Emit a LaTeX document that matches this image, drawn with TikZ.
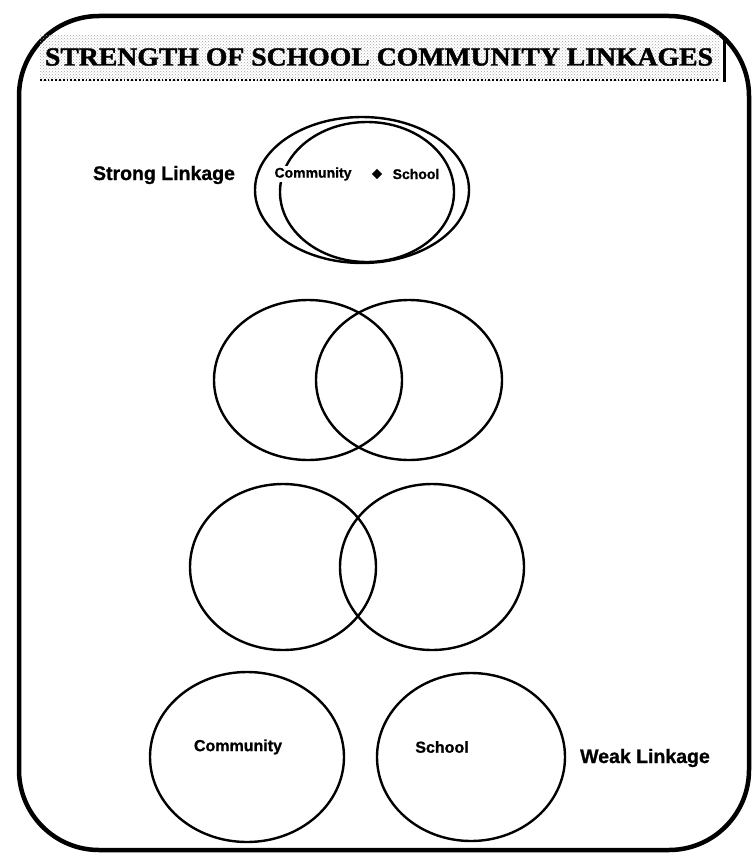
\documentclass[tikz,border=0pt]{standalone}
\usepackage{fontspec}
\setmainfont{Liberation Sans}
\newfontfamily\titlefont[FakeBold=1.5]{Liberation Serif}
\newfontfamily\heavysans[FakeBold=1]{Liberation Sans}
\usetikzlibrary{patterns,shapes.geometric}
\begin{document}
\begin{tikzpicture}[x=1pt,y=-1pt,
  ring/.style={draw, ellipse, line width=2.4pt, inner sep=0pt},
  lbl/.style={font=\heavysans\bfseries\fontsize{19.5}{21}\selectfont},
  inlbl/.style={font=\heavysans\bfseries\fontsize{16}{18}\selectfont},
  toplbl/.style={font=\heavysans\bfseries\fontsize{14}{16}\selectfont, fill=white, inner sep=1pt},
]
\useasboundingbox (0,0) rectangle (752,859);
% frame
\draw[line width=4.5pt, rounded corners=80pt] (19,16) rectangle (749,850);
% title band
\fill[pattern=crosshatch dots, pattern color=gray!70] (40,36) rectangle (720,80);
\node[inner sep=0pt] (title) at (379,57) {\resizebox{668pt}{\height}{\titlefont\bfseries\fontsize{26}{28}\selectfont STRENGTH OF SCHOOL COMMUNITY LINKAGES}};
\draw[line width=1.8pt, dotted] (40,80) -- (720,80);
\draw[line width=3pt] (724,40) -- (724,82);

% strong linkage
\node[ring, minimum width=174pt, minimum height=140pt] (s2) at (367,192) {};
\node[toplbl] (sc) at (313,174) {Community};
\node[diamond, fill, inner sep=2.6pt] (dia) at (377,174) {};
\node[toplbl] (ss) at (416,174) {School};
\node[ring, minimum width=214pt, minimum height=146pt] (s1) at (362,190) {};
\node[lbl] (strong) at (164,175) {Strong Linkage};

% second pair
\node[ring, minimum width=188pt, minimum height=160pt] (b1) at (308,380) {};
\node[ring, minimum width=186pt, minimum height=160pt] (b2) at (409,380) {};

% third pair
\node[ring, minimum width=186pt, minimum height=166pt] (c1) at (283,567) {};
\node[ring, minimum width=184pt, minimum height=166pt] (c2) at (432,567) {};

% weak linkage
\node[ring, minimum width=194pt, minimum height=170pt] (d1) at (247,757) {};
\node[ring, minimum width=188pt, minimum height=168pt] (d2) at (471,757) {};
\node[inlbl] (dc) at (238,747) {Community};
\node[inlbl] (ds) at (442,747) {School};
\node[lbl] (weak) at (645,758) {Weak Linkage};
\end{tikzpicture}
\end{document}
